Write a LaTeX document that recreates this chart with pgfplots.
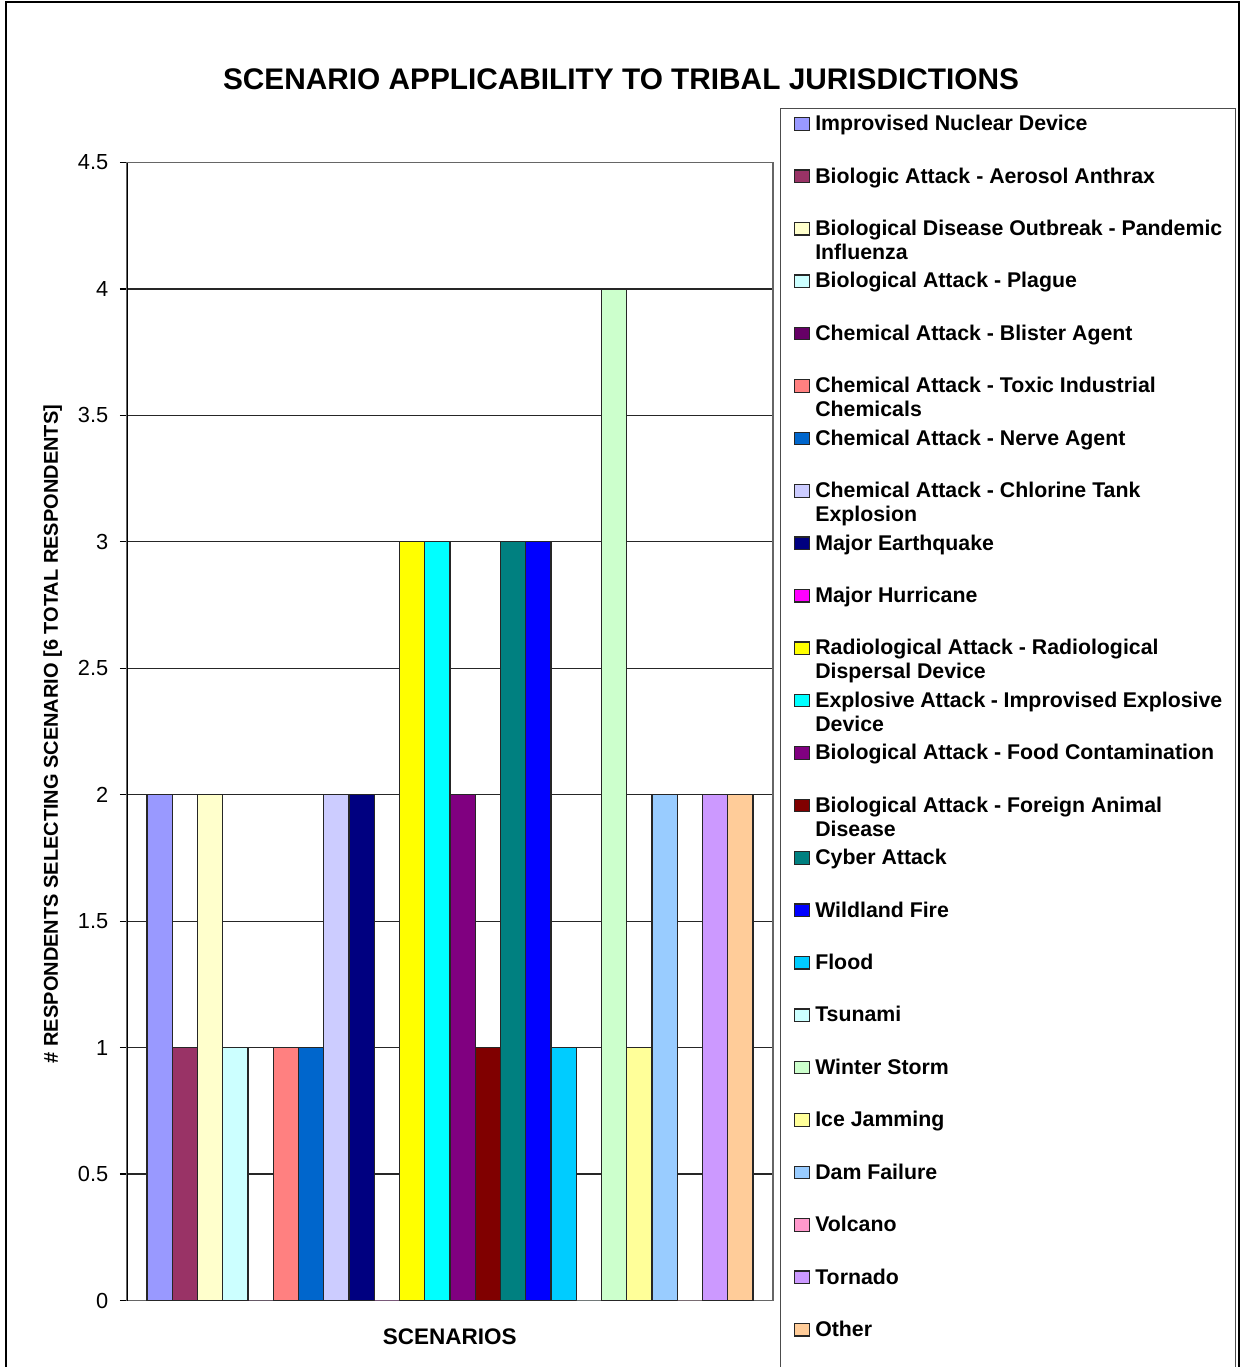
\documentclass[border=0pt]{standalone}
\usepackage{fontspec}
\setmainfont{Liberation Sans}
\usepackage{pgfplots}
\pgfplotsset{compat=1.18}
\definecolor{c1}{HTML}{9999FF}
\definecolor{c2}{HTML}{993366}
\definecolor{c3}{HTML}{FFFFCC}
\definecolor{c4}{HTML}{CCFFFF}
\definecolor{c5}{HTML}{660066}
\definecolor{c6}{HTML}{FF8080}
\definecolor{c7}{HTML}{0066CC}
\definecolor{c8}{HTML}{CCCCFF}
\definecolor{c9}{HTML}{000080}
\definecolor{c10}{HTML}{FF00FF}
\definecolor{c11}{HTML}{FFFF00}
\definecolor{c12}{HTML}{00FFFF}
\definecolor{c13}{HTML}{800080}
\definecolor{c14}{HTML}{800000}
\definecolor{c15}{HTML}{008080}
\definecolor{c16}{HTML}{0000FF}
\definecolor{c17}{HTML}{00CCFF}
\definecolor{c18}{HTML}{CCFFFF}
\definecolor{c19}{HTML}{CCFFCC}
\definecolor{c20}{HTML}{FFFF99}
\definecolor{c21}{HTML}{99CCFF}
\definecolor{c22}{HTML}{FF99CC}
\definecolor{c23}{HTML}{CC99FF}
\definecolor{c24}{HTML}{FFCC99}
\pgfplotsset{
  bb/.style={ybar, bar width=1, bar shift=0pt, draw=black!85, line width=1.2pt, fill=#1},
  bz/.style={ybar, bar width=1, bar shift=0pt, draw=none, fill=#1},
}
\newcommand{\two}[2]{\parbox[t]{407pt}{#1\\#2}}
\begin{document}
\begin{tikzpicture}[x=1pt,y=1pt]
\path[use as bounding box, fill=white] (0,0) rectangle (1241,1367);
\draw[black, line width=2pt] (5.5,-20) -- (5.5,1364.5) -- (1238.5,1364.5) -- (1238.5,-20);
\begin{axis}[
  at={(127pt,66.5pt)}, anchor=south west,
  scale only axis, width=646pt, height=1138pt,
  xmin=-0.292, xmax=25.292, ymin=0, ymax=4.5,
  xtick=\empty,
  ytick={0,0.5,1,1.5,2,2.5,3,3.5,4,4.5},
  ytick pos=left, tick align=outside, major tick length=7pt,
  tick style={black, line width=1.2pt},
  ymajorgrids, grid style={black!85, line width=1.2pt},
  axis line style={draw=black!60, line width=1.2pt},
  /pgf/number format/assume math mode=true,
  yticklabel style={font=\fontsize{21.8}{24}\selectfont, anchor=east, inner sep=0pt, xshift=-11.5pt},
  title={SCENARIO APPLICABILITY TO TRIBAL JURISDICTIONS},
  title style={font=\bfseries\fontsize{29.8}{32}\selectfont, at={(axis description cs:0.7647,1.0590)}, anchor=base, inner sep=0pt},
  xlabel={SCENARIOS},
  xlabel style={font=\bfseries\fontsize{22.5}{24}\selectfont, at={(axis description cs:0.49977,-0.03849)}, anchor=base, inner sep=0pt},
  ylabel={\# RESPONDENTS SELECTING SCENARIO [6 TOTAL RESPONDENTS]},
  ylabel style={font=\bfseries\fontsize{20}{22}\selectfont, at={(axis description cs:-0.10681,0.4978)}, anchor=base, rotate=0, inner sep=0pt},
  legend image code/.code={\draw[#1, draw=black!85, line width=1.2pt] (0pt,0.5pt) rectangle (15.5pt,13pt);},
  legend style={
    at={(axis description cs:1.01084,1.04816)}, anchor=north west,
    draw=black!70, line width=1.2pt,
    inner xsep=13pt, inner ysep=7.3pt,
    column sep=5pt, row sep=0pt,
    cells={anchor=base west},
    nodes={inner sep=0pt, text height=15pt, text depth=37.43pt},
    font=\bfseries\fontsize{21.3}{24}\selectfont,
  },
]
\addplot[bb=c1] coordinates {(1,2)};
\addlegendentry{Improvised Nuclear Device}
\addplot[bb=c2] coordinates {(2,1)};
\addlegendentry{Biologic Attack - Aerosol Anthrax}
\addplot[bb=c3] coordinates {(3,2)};
\addlegendentry{\two{Biological Disease Outbreak - Pandemic}{Influenza}}
\addplot[bb=c4] coordinates {(4,1)};
\addlegendentry{Biological Attack - Plague}
\addplot[bz=c5] coordinates {(5,0)};
\addlegendentry{Chemical Attack - Blister Agent}
\addplot[bb=c6] coordinates {(6,1)};
\addlegendentry{\two{Chemical Attack - Toxic Industrial}{Chemicals}}
\addplot[bb=c7] coordinates {(7,1)};
\addlegendentry{Chemical Attack - Nerve Agent}
\addplot[bb=c8] coordinates {(8,2)};
\addlegendentry{\two{Chemical Attack - Chlorine Tank}{Explosion}}
\addplot[bb=c9] coordinates {(9,2)};
\addlegendentry{Major Earthquake}
\addplot[bz=c10] coordinates {(10,0)};
\addlegendentry{Major Hurricane}
\addplot[bb=c11] coordinates {(11,3)};
\addlegendentry{\two{Radiological Attack - Radiological}{Dispersal Device}}
\addplot[bb=c12] coordinates {(12,3)};
\addlegendentry{\two{Explosive Attack - Improvised Explosive}{Device}}
\addplot[bb=c13] coordinates {(13,2)};
\addlegendentry{Biological Attack - Food Contamination}
\addplot[bb=c14] coordinates {(14,1)};
\addlegendentry{\two{Biological Attack - Foreign Animal}{Disease}}
\addplot[bb=c15] coordinates {(15,3)};
\addlegendentry{Cyber Attack}
\addplot[bb=c16] coordinates {(16,3)};
\addlegendentry{Wildland Fire}
\addplot[bb=c17] coordinates {(17,1)};
\addlegendentry{Flood}
\addplot[bz=c18] coordinates {(18,0)};
\addlegendentry{Tsunami}
\addplot[bb=c19] coordinates {(19,4)};
\addlegendentry{Winter Storm}
\addplot[bb=c20] coordinates {(20,1)};
\addlegendentry{Ice Jamming}
\addplot[bb=c21] coordinates {(21,2)};
\addlegendentry{Dam Failure}
\addplot[bz=c22] coordinates {(22,0)};
\addlegendentry{Volcano}
\addplot[bb=c23] coordinates {(23,2)};
\addlegendentry{Tornado}
\addplot[bb=c24] coordinates {(24,2)};
\addlegendentry{Other}
\draw[black, line width=1.5pt] (rel axis cs:0,0) -- (rel axis cs:0,1);
\end{axis}
\end{tikzpicture}
\end{document}
